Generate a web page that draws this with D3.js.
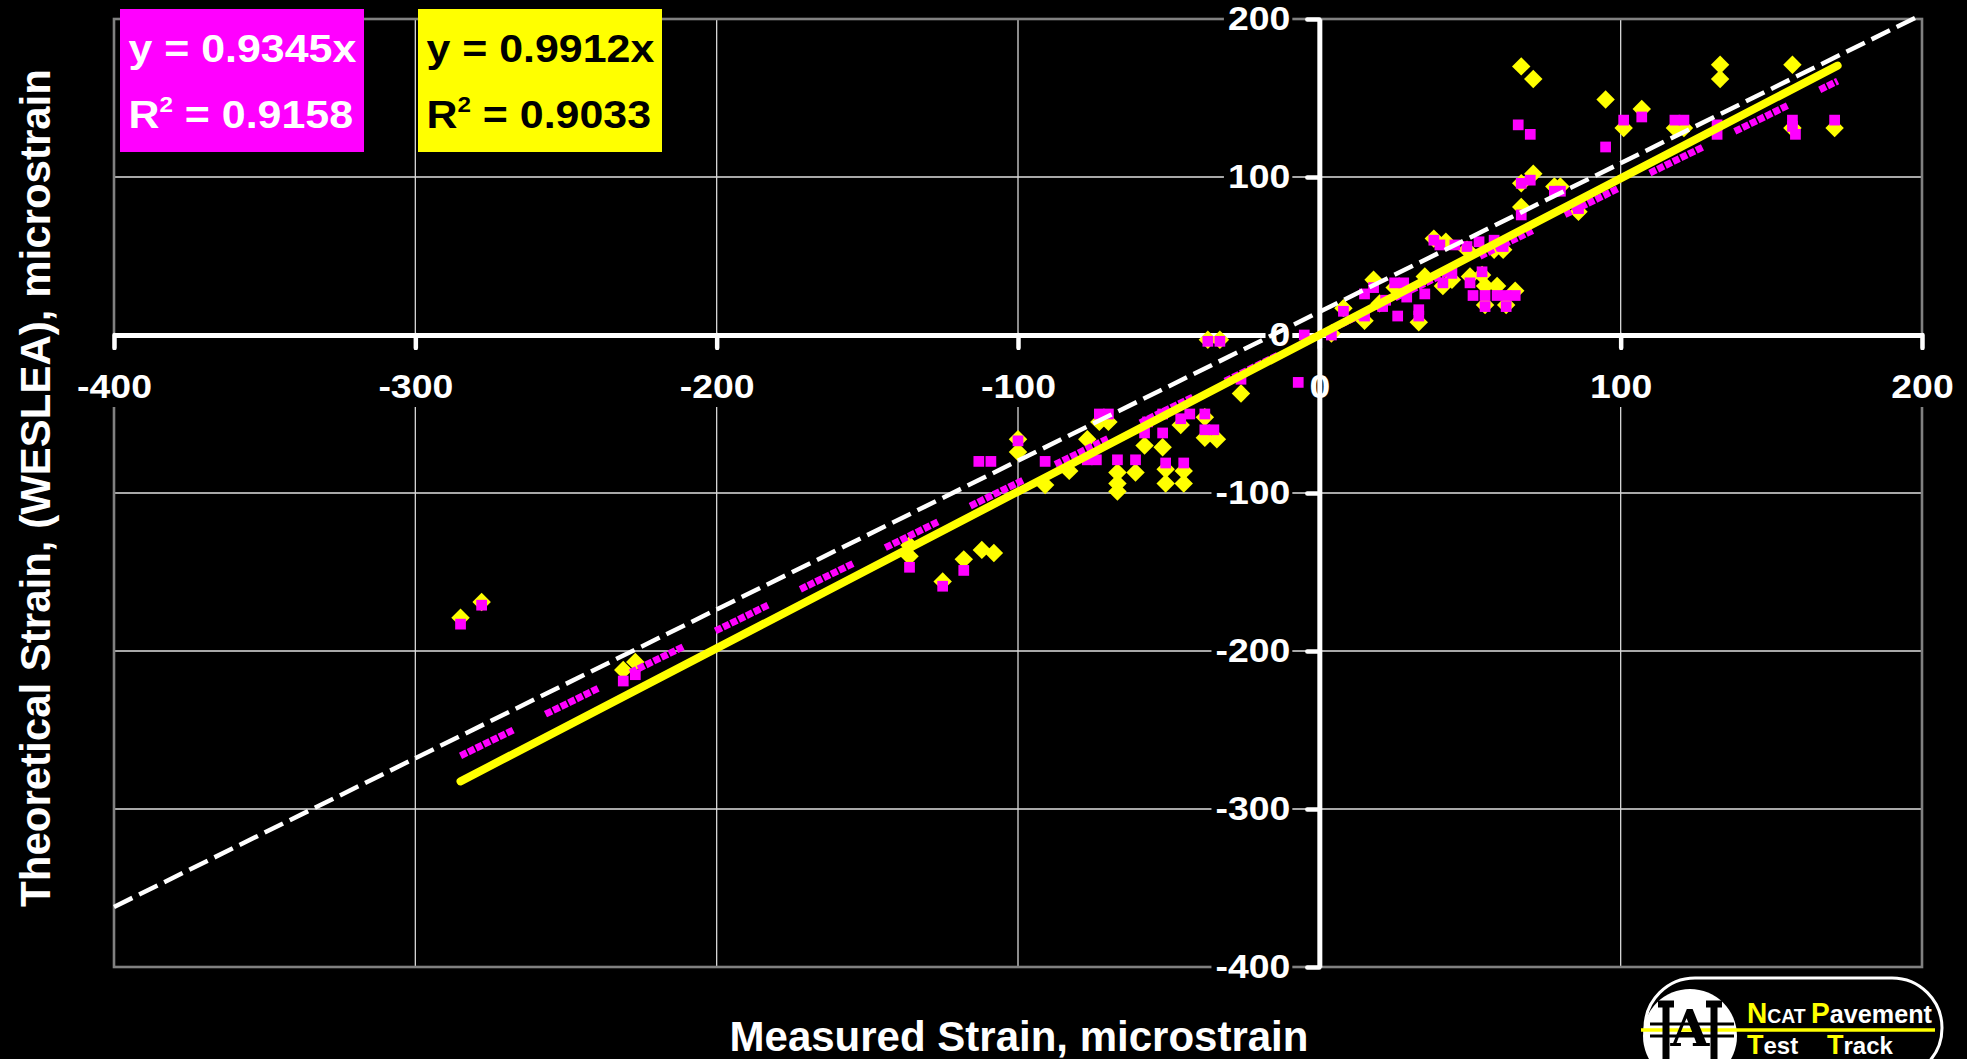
<!DOCTYPE html>
<html>
<head>
<meta charset="utf-8">
<script src="https://cdn.jsdelivr.net/npm/d3@7"></script>
<style>
  html, body { margin: 0; padding: 0; background: #000; overflow: hidden; }
  svg { display: block; }
  text { font-family: Arial, "Liberation Sans", sans-serif; font-weight: bold; }
</style>
</head>
<body>
<svg id="chart" width="1967" height="1059"></svg>
<script>
// axis ticks (same on both axes)
var tickValues = [-400, -300, -200, -100, 0, 100, 200];

// magenta series: measured vs theoretical strain
var magentaMeasured = [-285, -278, -231, -227, -136, -125, -118, -113, -109, -100, -91, -77, -74, -73, -70,
  -67, -61, -58, -57, -52, -52, -51, -46, -45, -43, -38, -38, -35, -37, -33, -26, -7, -5, 4, 8,
  15, 15, 18, 21, 25, 28, 26, 29, 33, 33, 35, 22, 38, 40, 45, 49, 53, 58, 61, 41, 44, 54, 50,
  51, 55, 59, 62, 65, 55, 62, 66, 70, 67, 70, 67, 78, 80, 86, 95, 101, 107, 118, 121, 132, 132,
  157, 157, 158, 171];
var magentaTheory = [-183, -171, -219, -215, -147, -159, -149, -80, -80, -67, -80, -79, -79, -50, -50,
  -79, -79, -62, -55, -62, -50, -81, -53, -81, -50, -50, -60, -60, -4, -4, -28, -30, 0, 0, 15,
  26, 12, 30, 18, 33, 33, 12, 24, 12, 16, 26, 22, 60, 57, 57, 56, 59, 60, 56, 33, 39, 40, 33,
  25, 25, 25, 25, 25, 18, 18, 133, 127, 96, 98, 76, 91, 91, 80, 119, 136, 138, 136, 136, 133, 127,
  136, 132, 127, 136];

// yellow series: measured vs theoretical strain
var yellowMeasured = [-285, -278, -231, -227, -136, -136, -125, -118, -112, -108, -100, -100, -91, -83, -77,
  -73, -70, -67, -67, -67, -61, -58, -52, -46, -51, -51, -45, -45, -38, -34, -38, -37, -33, -26,
  4, 8, 18, 15, 33, 35, 25, 20, 38, 42, 49, 58, 61, 41, 44, 54, 50, 55, 59, 65, 55, 62,
  67, 71, 67, 71, 67, 78, 80, 86, 95, 101, 107, 118, 121, 133, 133, 157, 157, 171];
var yellowTheory = [-179, -169, -212, -207, -140, -133, -156, -142, -136, -138, -66, -74, -95, -86, -66,
  -55, -55, -87, -94, -99, -87, -70, -71, -57, -85, -94, -86, -94, -65, -66, -52, -3, -3, -37,
  1, 17, 35, 9, 8, 37, 30, 20, 61, 59, 54, 54, 54, 31, 35, 38, 37, 31, 31, 28, 19, 19,
  170, 162, 96, 102, 81, 94, 94, 78, 149, 131, 143, 131, 131, 171, 162, 171, 131, 131];

// trend lines (through origin) and the dashed reference line
var magentaSlope = 0.9345, yellowSlope = 0.9912;
var trendRange = [-285, 172];
var refLineX = [-400, 198], refLineY = [-362, 201];

var magentaEq = ["y = 0.9345x", "0.9158"];
var yellowEq = ["y = 0.9912x", "0.9033"];

var svg = d3.select("#chart");
svg.append("rect").attr("width", 1967).attr("height", 1059).attr("fill", "#000");

var x = d3.scaleLinear().domain([-400, 200]).range([114, 1922]);
var y = d3.scaleLinear().domain([-400, 200]).range([967, 19]);

// grid + border
var grid = svg.append("g");
var inner = tickValues.filter(function(v) { return v > -400 && v < 200 && v != 0; });
grid.selectAll(".hg").data(inner).enter().append("line")
    .attr("x1", x(-400)).attr("x2", x(200))
    .attr("y1", function(d) { return y(d); }).attr("y2", function(d) { return y(d); })
    .attr("stroke", "#a8a8a8").attr("stroke-width", 2);
grid.selectAll(".vg").data(inner).enter().append("line")
    .attr("y1", y(200)).attr("y2", y(-400))
    .attr("x1", function(d) { return x(d); }).attr("x2", function(d) { return x(d); })
    .attr("stroke", "#d8d8d8").attr("stroke-width", 1.3);
grid.append("rect")
    .attr("x", x(-400)).attr("y", y(200))
    .attr("width", x(200) - x(-400)).attr("height", y(-400) - y(200))
    .attr("fill", "none").attr("stroke", "#808080").attr("stroke-width", 2.6);

function styleAxis(g) {
  g.attr("font-size", 34).attr("font-family", null);
  g.select(".domain").attr("stroke", "#fff").attr("stroke-width", 5);
  g.selectAll(".tick line").attr("stroke", "#fff").attr("stroke-width", 4.5).attr("stroke-linecap", "round");
  g.selectAll(".tick text").attr("fill", "#fff").style("font-size", "34px")
    .each(function() {
      var w = this.getComputedTextLength();
      d3.select(this).attr("textLength", w * 1.1).attr("lengthAdjust", "spacingAndGlyphs");
    });
}
var plainFormat = function(d) { return String(d); };

// x axis at y = 0
var xAxis = svg.append("g")
    .attr("transform", "translate(0," + y(0) + ")")
    .call(d3.axisBottom(x).tickValues(tickValues).tickFormat(plainFormat)
      .tickSize(13).tickSizeOuter(0).tickPadding(26));
styleAxis(xAxis);
xAxis.selectAll(".tick").each(function() {
  var t = d3.select(this).select("text");
  var bb = t.node().getBBox();
  d3.select(this).insert("rect", "text")
      .attr("x", bb.x - 4).attr("width", bb.width + 8)
      .attr("y", 15).attr("height", 57).attr("fill", "#000");
});

// y axis at x = 0
var yAxis = svg.append("g")
    .attr("transform", "translate(" + x(0) + ",0)")
    .call(d3.axisLeft(y).tickValues(tickValues).tickFormat(plainFormat)
      .tickSize(12).tickSizeOuter(0).tickPadding(17));
styleAxis(yAxis);
yAxis.selectAll(".tick").each(function() {
  var t = d3.select(this).select("text");
  var bb = t.node().getBBox();
  d3.select(this).insert("rect", "text")
      .attr("x", bb.x - 4).attr("width", bb.width + 6)
      .attr("y", -18).attr("height", 36).attr("fill", "#000");
});

// scatter points
var plot = svg.append("g");
plot.selectAll(".yel").data(d3.zip(yellowMeasured, yellowTheory)).enter().append("path")
    .attr("d", d3.symbol().type(d3.symbolSquare).size(170))
    .attr("transform", function(d) { return "translate(" + x(d[0]) + "," + y(d[1]) + ") rotate(45)"; })
    .attr("fill", "#ffff00");
plot.selectAll(".mag").data(d3.zip(magentaMeasured, magentaTheory)).enter().append("path")
    .attr("d", d3.symbol().type(d3.symbolSquare).size(115))
    .attr("transform", function(d) { return "translate(" + x(d[0]) + "," + y(d[1]) + ")"; })
    .attr("fill", "#ff00ff");

// trend lines
var line = d3.line().x(function(d) { return x(d[0]); }).y(function(d) { return y(d[1]); });
plot.append("path")
    .datum(trendRange.map(function(v) { return [v, v * magentaSlope]; }))
    .attr("d", line).attr("fill", "none")
    .attr("stroke", "#ff00ff").attr("stroke-width", 7)
    .attr("stroke-dasharray", "7 1.6 7 1.6 7 1.6 7 1.6 7 1.6 7 1.6 7 36");
plot.append("path")
    .datum(trendRange.map(function(v) { return [v, v * yellowSlope]; }))
    .attr("d", line).attr("fill", "none")
    .attr("stroke", "#ffff00").attr("stroke-width", 8).attr("stroke-linecap", "round");
plot.append("path")
    .datum(d3.zip(refLineX, refLineY))
    .attr("d", line).attr("fill", "none")
    .attr("stroke", "#fff").attr("stroke-width", 4.5)
    .attr("stroke-dasharray", "20.5 7.5");

// equation boxes
function eqBox(bx, fill, color, eq) {
  var g = svg.append("g");
  g.append("rect").attr("x", bx).attr("y", 9).attr("width", 244).attr("height", 143).attr("fill", fill);
  g.append("text").attr("transform", "translate(" + (bx + 8.5) + ",62) scale(1.1,1)")
      .attr("fill", color).style("font-size", "39px").text(eq[0]);
  var r = g.append("text").attr("transform", "translate(" + (bx + 8.5) + ",128) scale(1.1,1)")
      .attr("fill", color).style("font-size", "39px");
  r.append("tspan").text("R");
  r.append("tspan").attr("dy", -16).style("font-size", "22px").text("2");
  r.append("tspan").attr("dy", 16).text(" = " + eq[1]);
}
eqBox(120, "#ff00ff", "#fff", magentaEq);
eqBox(418, "#ffff00", "#000", yellowEq);

// axis titles
svg.append("text")
    .attr("transform", "translate(50,488) rotate(-90)")
    .attr("text-anchor", "middle").attr("fill", "#fff").style("font-size", "42px")
    .text("Theoretical Strain, (WESLEA), microstrain");
svg.append("text")
    .attr("x", 1019).attr("y", 1051)
    .attr("text-anchor", "middle").attr("fill", "#fff").style("font-size", "42px")
    .text("Measured Strain, microstrain");

// NCAT logo
var logo = svg.append("g");
logo.append("rect").attr("x", 1645).attr("y", 978).attr("width", 297).attr("height", 100).attr("rx", 50)
    .attr("fill", "#000").attr("stroke", "#fff").attr("stroke-width", 3);
logo.append("circle").attr("cx", 1690).attr("cy", 1036).attr("r", 47).attr("fill", "#fff");
logo.append("line").attr("x1", 1641).attr("x2", 1935).attr("y1", 1030).attr("y2", 1030)
    .attr("stroke", "#ffff00").attr("stroke-width", 3.5);
logo.append("line").attr("x1", 1650).attr("x2", 1734).attr("y1", 1024).attr("y2", 1024)
    .attr("stroke", "#000").attr("stroke-width", 3);
logo.append("line").attr("x1", 1650).attr("x2", 1734).attr("y1", 1036).attr("y2", 1036)
    .attr("stroke", "#000").attr("stroke-width", 3);
// U arms either side of the A
logo.append("path")
    .attr("d", "M1658,1004H1674M1666,1004V1059M1706,1004H1722M1714,1004V1059")
    .attr("stroke", "#000").attr("stroke-width", 7).attr("fill", "none");
logo.append("text").attr("x", 1690).attr("y", 1046).attr("text-anchor", "middle")
    .attr("fill", "#000")
    .style("font-family", "'DejaVu Serif', serif").style("font-size", "50px")
    .text("A");
var l1 = logo.append("text").attr("x", 1747).attr("y", 1023)
    .attr("textLength", 185).attr("lengthAdjust", "spacingAndGlyphs");
l1.append("tspan").attr("fill", "#ffff00").style("font-size", "29px").text("N");
l1.append("tspan").attr("fill", "#fff").style("font-size", "20px").text("CAT ");
l1.append("tspan").attr("fill", "#ffff00").style("font-size", "29px").text("P");
l1.append("tspan").attr("fill", "#fff").style("font-size", "26px").text("avement");
var l2 = logo.append("text").attr("x", 1747).attr("y", 1054);
l2.append("tspan").attr("fill", "#ffff00").style("font-size", "27px").text("T");
l2.append("tspan").attr("fill", "#fff").style("font-size", "24px").text("est");
l2.append("tspan").attr("x", 1827).attr("fill", "#ffff00").style("font-size", "27px").text("T");
l2.append("tspan").attr("fill", "#fff").style("font-size", "24px").text("rack");
</script>
</body>
</html>
